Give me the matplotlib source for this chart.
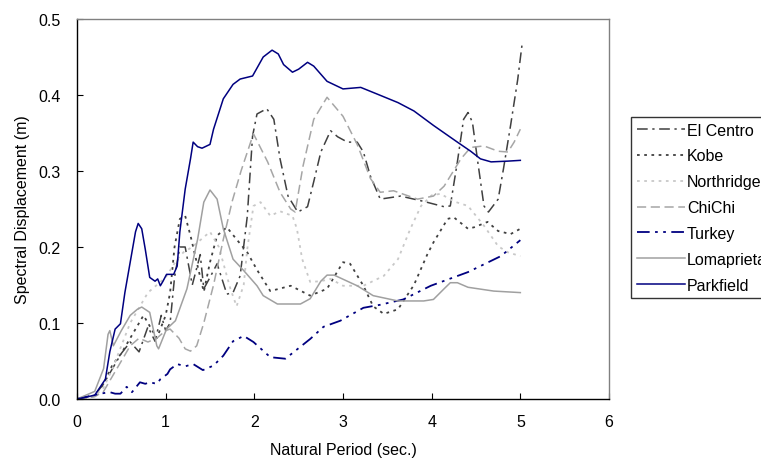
import matplotlib
matplotlib.use("Agg")
import matplotlib.pyplot as plt

plt.rcParams['font.family'] = ['Liberation Sans', 'DejaVu Sans']

# ---- data (period in s, spectral displacement in m) ----
elcentro_x = [0, 0.2, 0.3, 0.4, 0.5, 0.6, 0.7, 0.8, 0.88, 0.95, 1.0, 1.05, 1.1, 1.16, 1.22, 1.3, 1.39, 1.43,
              1.5, 1.58, 1.69, 1.76, 1.84, 1.92, 1.98, 2.03, 2.14, 2.22, 2.29, 2.38, 2.49, 2.6, 2.67, 2.75,
              2.86, 2.94, 3.05, 3.16, 3.23, 3.31, 3.42, 3.65, 3.91, 4.14, 4.21, 4.29, 4.36, 4.41, 4.46, 4.52,
              4.59, 4.64, 4.75, 4.81, 4.89, 4.97, 5.02]
elcentro_y = [0, 0.005, 0.02, 0.04, 0.06, 0.075, 0.062, 0.095, 0.076, 0.11, 0.09, 0.1, 0.16, 0.2, 0.2, 0.15, 0.19, 0.145,
              0.16, 0.178, 0.138, 0.14, 0.162, 0.24, 0.346, 0.375, 0.382, 0.368, 0.316, 0.267, 0.246, 0.253, 0.286, 0.325,
              0.353, 0.345, 0.338, 0.338, 0.325, 0.293, 0.263, 0.267, 0.26, 0.253, 0.254, 0.312, 0.368, 0.377, 0.364, 0.312,
              0.254, 0.246, 0.263, 0.303, 0.36, 0.42, 0.467]

kobe_x = [0, 0.2, 0.3, 0.4, 0.5, 0.6, 0.7, 0.75, 0.8, 0.9, 1.0, 1.05, 1.1, 1.16, 1.22, 1.28, 1.36, 1.43, 1.5, 1.58,
          1.69, 1.8, 1.92, 2.03, 2.18, 2.41, 2.63, 2.82, 3.0, 3.08, 3.23, 3.34, 3.46, 3.62, 3.8, 3.95, 4.02, 4.18,
          4.25, 4.41, 4.48, 4.63, 4.75, 4.89, 5.0]
kobe_y = [0, 0.004, 0.02, 0.045, 0.06, 0.08, 0.1, 0.11, 0.1, 0.08, 0.11, 0.14, 0.2, 0.237, 0.241, 0.215, 0.175, 0.141, 0.18, 0.215,
          0.226, 0.21, 0.193, 0.17, 0.142, 0.149, 0.136, 0.145, 0.18, 0.178, 0.149, 0.122, 0.112, 0.118, 0.15, 0.19, 0.206, 0.237,
          0.239, 0.224, 0.226, 0.233, 0.221, 0.217, 0.224]

northridge_x = [0, 0.2, 0.3, 0.4, 0.5, 0.6, 0.7, 0.8, 0.9, 1.0, 1.13, 1.2, 1.3, 1.4, 1.5, 1.6, 1.73, 1.8, 1.88, 1.92,
                1.99, 2.07, 2.18, 2.29, 2.43, 2.48, 2.54, 2.63, 2.75, 2.86, 3.0, 3.23, 3.46, 3.62, 3.76, 3.88, 4.0,
                4.1, 4.25, 4.41, 4.59, 4.75, 4.86, 5.0]
northridge_y = [0, 0.004, 0.015, 0.04, 0.07, 0.1, 0.12, 0.14, 0.15, 0.16, 0.184, 0.193, 0.2, 0.21, 0.22, 0.2, 0.145, 0.122, 0.15, 0.197,
                0.254, 0.259, 0.241, 0.247, 0.241, 0.224, 0.184, 0.154, 0.155, 0.158, 0.149, 0.149, 0.162, 0.184, 0.224, 0.254, 0.268,
                0.27, 0.26, 0.254, 0.228, 0.201, 0.193, 0.188]

chichi_x = [0, 0.2, 0.3, 0.4, 0.5, 0.6, 0.7, 0.8, 0.9, 1.0, 1.05, 1.15, 1.22, 1.28, 1.35, 1.43, 1.54, 1.65, 1.75, 1.85,
            1.99, 2.15, 2.29, 2.41, 2.46, 2.55, 2.67, 2.82, 3.0, 3.16, 3.31, 3.42, 3.57, 3.84, 4.02, 4.14, 4.33, 4.44,
            4.59, 4.75, 4.86, 4.93, 5.0]
chichi_y = [0, 0.003, 0.01, 0.03, 0.05, 0.07, 0.08, 0.075, 0.08, 0.09, 0.092, 0.08, 0.066, 0.063, 0.07, 0.1, 0.15, 0.21, 0.26, 0.3,
            0.349, 0.312, 0.272, 0.25, 0.246, 0.307, 0.368, 0.397, 0.372, 0.335, 0.29, 0.272, 0.274, 0.263, 0.267, 0.28, 0.316, 0.331,
            0.333, 0.326, 0.325, 0.338, 0.355]

turkey_x = [0, 0.26, 0.37, 0.43, 0.49, 0.56, 0.62, 0.71, 0.77, 0.82, 0.9, 0.94, 1.02, 1.05, 1.13, 1.22, 1.31, 1.42,
            1.54, 1.65, 1.76, 1.88, 1.99, 2.18, 2.35, 2.63, 2.78, 2.97, 3.23, 3.42, 3.68, 3.99, 4.41, 4.78, 5.0]
turkey_y = [0, 0.007, 0.009, 0.007, 0.007, 0.016, 0.009, 0.022, 0.02, 0.022, 0.02, 0.026, 0.033, 0.039, 0.046, 0.043, 0.046, 0.038,
            0.044, 0.057, 0.076, 0.083, 0.075, 0.055, 0.053, 0.079, 0.095, 0.103, 0.12, 0.124, 0.131, 0.149, 0.167, 0.188, 0.209]

loma_x = [0, 0.2, 0.3, 0.35, 0.37, 0.41, 0.5, 0.6, 0.68, 0.73, 0.82, 0.9, 0.92, 1.01, 1.11, 1.24, 1.36, 1.43, 1.5,
          1.58, 1.65, 1.76, 1.88, 2.03, 2.1, 2.26, 2.52, 2.63, 2.75, 2.82, 2.9, 3.16, 3.34, 3.62, 3.91, 4.02, 4.14,
          4.21, 4.29, 4.41, 4.7, 5.0]
loma_y = [0, 0.01, 0.04, 0.085, 0.09, 0.07, 0.09, 0.11, 0.118, 0.121, 0.114, 0.07, 0.066, 0.092, 0.103, 0.145, 0.21, 0.259, 0.275,
          0.263, 0.224, 0.184, 0.169, 0.149, 0.136, 0.125, 0.125, 0.132, 0.155, 0.163, 0.163, 0.149, 0.136, 0.129, 0.129, 0.131, 0.145,
          0.153, 0.153, 0.147, 0.142, 0.14]

park_x = [0, 0.2, 0.32, 0.37, 0.43, 0.49, 0.54, 0.6, 0.66, 0.69, 0.73, 0.77, 0.82, 0.88, 0.91, 0.94, 0.97, 1.01, 1.09,
          1.13, 1.16, 1.22, 1.28, 1.31, 1.36, 1.41, 1.5, 1.54, 1.65, 1.76, 1.84, 1.98, 2.1, 2.2, 2.27, 2.33, 2.43,
          2.5, 2.6, 2.67, 2.82, 3.0, 3.2, 3.39, 3.62, 3.8, 4.02, 4.29, 4.44, 4.55, 4.67, 4.86, 5.0]
park_y = [0, 0.005, 0.026, 0.062, 0.092, 0.099, 0.14, 0.18, 0.22, 0.231, 0.224, 0.197, 0.16, 0.155, 0.158, 0.149, 0.155, 0.164, 0.164,
          0.175, 0.22, 0.276, 0.316, 0.338, 0.332, 0.33, 0.335, 0.355, 0.395, 0.414, 0.421, 0.425, 0.45, 0.459, 0.454, 0.44, 0.43,
          0.434, 0.443, 0.438, 0.418, 0.408, 0.41, 0.401, 0.39, 0.379, 0.36, 0.338, 0.326, 0.316, 0.312, 0.313, 0.314]

x_ticks = [0, 1, 2, 3, 4, 5, 6]
y_ticks = [0.0, 0.1, 0.2, 0.3, 0.4, 0.5]

FS = 11.5

fig = plt.figure(figsize=(7.61, 4.60), dpi=100)
ax = fig.add_axes([77/761, 60/460, (609-77)/761, 380/460])

ax.plot(elcentro_x, elcentro_y, color='#404040', lw=1.1, ls=(0, (7, 3, 1.5, 3)), label='El Centro')
ax.plot(kobe_x, kobe_y, color='#404040', lw=1.3, ls=(0, (1.5, 2.5)), label='Kobe')
ax.plot(northridge_x, northridge_y, color='#c8c8c8', lw=1.3, ls=(0, (1.5, 2.5)), label='Northridge')
ax.plot(chichi_x, chichi_y, color='#a6a6a6', lw=1.1, ls=(0, (6, 3)), label='ChiChi')
ax.plot(turkey_x, turkey_y, color='#000080', lw=1.3, ls=(0, (7, 3, 1.5, 3, 1.5, 3)), label='Turkey')
ax.plot(loma_x, loma_y, color='#a0a0a0', lw=1.1, label='Lomaprieta')
ax.plot(park_x, park_y, color='#000080', lw=1.1, label='Parkfield')

ax.set_xlim(0, 6)
ax.set_ylim(0, 0.5)
ax.set_xticks(x_ticks)
ax.set_yticks(y_ticks)
ax.set_xticklabels([str(v) for v in x_ticks])
ax.set_yticklabels(['%.1f' % v for v in y_ticks])
ax.tick_params(direction='in', length=4, width=0.8, labelsize=FS, colors='black')
ax.tick_params(axis='x', pad=11)
ax.tick_params(axis='y', pad=12)
for s in ['left', 'bottom']:
    ax.spines[s].set_color('black')
    ax.spines[s].set_linewidth(1.0)
for s in ['top', 'right']:
    ax.spines[s].set_color('#808080')
    ax.spines[s].set_linewidth(1.0)

ax.set_xlabel('Natural Period (sec.)', fontsize=FS, labelpad=9)
ax.set_ylabel('Spectral Displacement (m)', fontsize=FS, labelpad=6)

leg = fig.legend(loc='upper left', bbox_to_anchor=(631/761, 1 - 118/460), fontsize=FS,
                 frameon=True, fancybox=False, shadow=False, handlelength=3.0, handletextpad=0.15,
                 labelspacing=0.68, borderpad=0.35, borderaxespad=0)
leg.get_frame().set_edgecolor('black')
leg.get_frame().set_linewidth(1.0)

fig.savefig('out.png', dpi=100)
